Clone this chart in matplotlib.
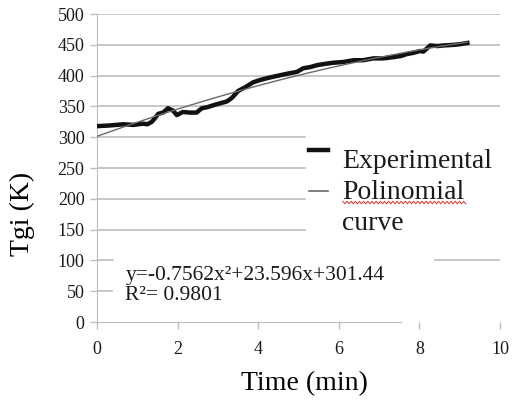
import numpy as np
import matplotlib.pyplot as plt
from matplotlib.lines import Line2D

plt.rcParams['font.family'] = ['Liberation Serif', 'DejaVu Serif']

# experimental curve
time_min = [0.0, 0.3, 0.65, 0.9, 1.14, 1.25, 1.36, 1.45, 1.52, 1.64, 1.76, 1.89,
            1.98, 2.13, 2.3, 2.47, 2.6, 2.75, 2.89, 3.05, 3.22, 3.35, 3.5, 3.7,
            3.87, 4.05, 4.29, 4.5, 4.71, 4.96, 5.12, 5.3, 5.46, 5.65, 5.87, 6.1,
            6.37, 6.6, 6.86, 7.1, 7.36, 7.55, 7.69, 7.85, 8.02, 8.1, 8.27, 8.45,
            8.6, 8.85, 9.0, 9.19]
tgi = [318, 319, 321, 320, 322, 321, 325, 332, 338, 340, 347, 343,
       336, 341, 340, 340, 347, 349, 352, 355, 358, 364, 375, 382,
       389, 393, 397, 400, 403, 406, 412, 414, 417, 419, 421, 422,
       425, 425, 428, 428, 430, 432, 435, 437, 440, 439, 449, 448,
       449, 450, 451, 453]

# polynomial fit shown on the chart
fit_coef = [-0.7562, 23.596, 301.44]
fit_label = 'y=-0.7562x²+23.596x+301.44'
r2_label = 'R²= 0.9801'

x_ticks = [0, 2, 4, 6, 8, 10]
y_ticks = [0, 50, 100, 150, 200, 250, 300, 350, 400, 450, 500]

grey = '#bdbdbd'

fig = plt.figure(figsize=(5.12, 4.01), dpi=100)
ax = fig.add_axes([0.1895, 0.197, 0.787, 0.768])

# gridlines, partly hidden behind the legend and the equation
grid_spans = {500: [(0, 1)], 450: [(0, 1)], 400: [(0, 1)], 350: [(0, 1)],
              300: [(0, 0.516)], 250: [(0, 0.516)], 200: [(0, 0.516)],
              150: [(0, 0.516)], 100: [(0, 0.04), (0.839, 1)], 50: [(0, 0.037)]}
for yv, spans in grid_spans.items():
    for a, b in spans:
        ax.axhline(yv, a, b, color=grey, lw=1.2, zorder=1)

ax.plot(time_min, tgi, color='#111111', lw=3.2, solid_joinstyle='round', zorder=3)
tf = np.linspace(0, max(time_min), 100)
ax.plot(tf, np.polyval(fit_coef, tf), color='#6a6a6a', lw=1.0, zorder=4)

ax.set_xlim(0, 10)
ax.set_ylim(0, 500)
ax.set_xticks(x_ticks)
ax.set_yticks(y_ticks)
ax.tick_params(axis='both', colors=grey, length=5, width=1, labelsize=13,
               labelcolor='#1a1a1a')
ax.tick_params(axis='x', pad=9)
ax.tick_params(axis='y', pad=4)
for s in ['top', 'right']:
    ax.spines[s].set_visible(False)
ax.spines['left'].set_color(grey)
ax.spines['bottom'].set_color(grey)
ax.spines['bottom'].set_bounds(0, 7.55)

ax.set_xlabel('Time (min)', fontsize=20)
ax.xaxis.set_label_coords(0.515, -0.158)
ax.set_ylabel('Tgi (K)', fontsize=20)
ax.yaxis.set_label_coords(-0.155, 0.35)

# legend drawn by hand
ax.add_line(Line2D([0.526, 0.572], [0.56, 0.56], transform=ax.transAxes,
                   color='#111111', lw=3.2))
ax.add_line(Line2D([0.526, 0.572], [0.425, 0.425], transform=ax.transAxes,
                   color='#6a6a6a', lw=1.2))
ax.text(0.608, 0.5, 'Experimental', transform=ax.transAxes, fontsize=20,
        color='#1a1a1a', va='baseline')
ax.text(0.608, 0.4, 'Polinomial', transform=ax.transAxes, fontsize=20,
        color='#1a1a1a', va='baseline')
ax.text(0.608, 0.3, 'curve', transform=ax.transAxes, fontsize=20,
        color='#1a1a1a', va='baseline')
# red spell-check squiggle under "Polinomial"
wx = np.linspace(0.61, 0.915, 60)
wy = 0.388 + 0.004 * np.where(np.arange(60) % 2 == 0, 1, -1)
ax.add_line(Line2D(wx, wy, transform=ax.transAxes, color='#e03030', lw=0.7))

ax.text(0.07, 0.136, fit_label, transform=ax.transAxes, fontsize=15.5,
        color='#1a1a1a', va='baseline')
ax.text(0.07, 0.071, r2_label, transform=ax.transAxes, fontsize=15.5,
        color='#1a1a1a', va='baseline')

fig.savefig('out.png', dpi=100)
